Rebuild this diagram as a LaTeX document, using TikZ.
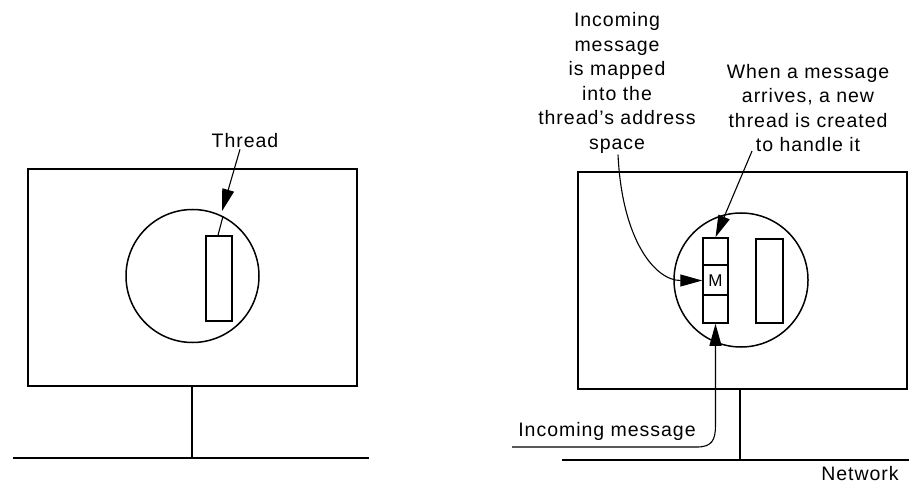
\documentclass[tikz,border=0pt]{standalone}
\usepackage{fontspec}
\setmainfont{Liberation Sans}[LetterSpace=5]
\usetikzlibrary{arrows.meta,calc}

\tikzset{
  frame/.style={draw, line width=1.8pt},
  procbox/.style={draw, line width=1.8pt, minimum width=329pt, minimum height=217pt, inner sep=0pt},
  addrspace/.style={draw, circle, line width=1.5pt, minimum size=133pt, inner sep=0pt},
  threadbox/.style={draw, line width=1.5pt, minimum width=26pt, minimum height=85pt, inner sep=0pt},
  lbl/.style={align=center, inner sep=1pt, font=\fontsize{19.5}{24.5}\selectfont},
  pointer/.style={line width=1.1pt, -{Triangle[length=22pt,width=12pt]}},
  wire/.style={line width=1.1pt},
}

\begin{document}
\begin{tikzpicture}[x=1pt,y=-1pt]
\useasboundingbox (0,0) rectangle (909,486);

% ---- single-threaded server (left) ----
\node[procbox] (p1) at (192.5,277.5) {};
\node[addrspace] (c1) at (192.5,276) {};
\node[threadbox] (t1) at (219,278.5) {};
\node[lbl] (lab1) at (245,141) {Thread};
\coordinate (n1l) at (13,458);
\coordinate (n1r) at (369,458);
\draw[frame] (n1l) -- (n1r);
\draw[frame] (192,386) -- (192,458);
\draw[pointer] ([xshift=-5pt]lab1.south) -- ([shift={(-1pt,5pt)}]c1.63);
\draw[wire] (c1.63) -- ([xshift=-1pt]t1.north);

% ---- pop-up threads (right) ----
\node[procbox] (p2) at (742.5,280.5) {};
\node[addrspace, minimum size=134pt] (c2) at (741,280) {};
\node[threadbox, minimum width=25pt] (t2) at (715.5,280.5) {};
\node[threadbox, minimum width=27pt, minimum height=84pt] (t3) at (769.5,281) {};
\draw[line width=1.1pt] (t2.west |- 0,265) -- (t2.east |- 0,265);
\draw[line width=1.1pt] (t2.west |- 0,295) -- (t2.east |- 0,295);
\node[lbl, font=\fontsize{17}{20}\selectfont] (m) at (715.5,280.5) {M};

\coordinate (n2l) at (562,460);
\coordinate (n2r) at (909,460);
\draw[frame] (n2l) -- (n2r);
\draw[frame] (740,389) -- (740,460);
\node[lbl] (net) at (860,473.5) {Network};

\node[lbl] (lab2) at (617,83) {Incoming\\message\\is mapped\\into the\\thread's address\\space};
\node[lbl] (lab3) at (808,108) {When a message\\arrives, a new\\thread is created\\to handle it};
\node[lbl] (lab4) at (607,431) {Incoming message};

\draw[pointer] ([xshift=1pt]lab2.south) .. controls (622,240) and (655,280.5) .. (t2.west);
\draw[pointer] ([xshift=-56pt,yshift=2pt]lab3.south) -- (t2.north);

\coordinate (src) at (512,447);
\draw[pointer] (src) -- (697,447) .. controls (712,447) and (715.5,440) .. (715.5,425) -- (t2.south);
\end{tikzpicture}
\end{document}
